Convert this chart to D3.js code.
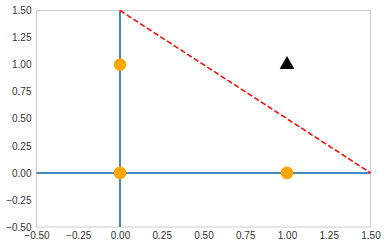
<!DOCTYPE html>
<html><head><meta charset="utf-8">
<script src="https://cdn.jsdelivr.net/npm/d3@7"></script>
<style>body{margin:0;background:#fff}</style>
</head><body><svg id="c" width="388" height="247"></svg>
<script>
const xTicks = [-0.5,-0.25,0,0.25,0.5,0.75,1,1.25,1.5];
const yTicks = [-0.5,-0.25,0,0.25,0.5,0.75,1,1.25,1.5];
const circleX = [0,0,1];
const circleY = [0,1,0];
const triX = [1];
const triY = [1];
const lineX = [0,1.5];
const lineY = [1.5,0];

const svg = d3.select("#c");
const m = {l:36.5, r:370.5, t:10.5, b:227};
const x = d3.scaleLinear().domain([-0.5,1.5]).range([m.l,m.r]);
const y = d3.scaleLinear().domain([-0.5,1.5]).range([m.b,m.t]);
const fmt = v => d3.format(".2f")(v).replace("-","\u2212");

const g = svg.append("g");
// frame
g.append("rect").attr("x",m.l).attr("y",m.t).attr("width",m.r-m.l).attr("height",m.b-m.t)
 .attr("fill","none").attr("stroke","#cccccc").attr("stroke-width",1);

const xAxis = d3.axisBottom(x).tickValues(xTicks).tickFormat(fmt).tickSize(0).tickPadding(5);
const yAxis = d3.axisLeft(y).tickValues(yTicks).tickFormat(fmt).tickSize(0).tickPadding(5);
const ax = svg.append("g").attr("transform",`translate(0,${m.b})`).call(xAxis);
const ay = svg.append("g").attr("transform",`translate(${m.l},0)`).call(yAxis);
[ax,ay].forEach(a=>{a.select(".domain").remove();
  a.selectAll("text").attr("font-family","Liberation Sans, Arial, sans-serif").attr("font-size","10px").attr("fill","#333");});

// axis lines
svg.append("line").attr("x1",x(-0.5)).attr("x2",x(1.5)).attr("y1",y(0)).attr("y2",y(0))
 .attr("stroke","#4589bf").attr("stroke-width",2);
svg.append("line").attr("x1",x(0)).attr("x2",x(0)).attr("y1",y(-0.5)).attr("y2",y(1.5))
 .attr("stroke","#4589bf").attr("stroke-width",2);

// dashed line
svg.append("path").datum(lineX.map((d,i)=>[d,lineY[i]]))
 .attr("d",d3.line().x(d=>x(d[0])).y(d=>y(d[1])))
 .attr("fill","none").attr("stroke","#ff0000").attr("stroke-width",1.5).attr("stroke-dasharray","5.5,2.5");

svg.selectAll("circle.p").data(circleX.map((d,i)=>[d,circleY[i]])).enter().append("circle")
 .attr("cx",d=>x(d[0])).attr("cy",d=>y(d[1])).attr("r",6.3).attr("fill","#ffa500");

svg.selectAll("path.t").data(triX.map((d,i)=>[d,triY[i]])).enter().append("path")
 .attr("d",d3.symbol().type(d3.symbolTriangle).size(95)())
 .attr("transform",d=>`translate(${x(d[0])},${y(d[1])})`).attr("fill","#000");
</script></body></html>
